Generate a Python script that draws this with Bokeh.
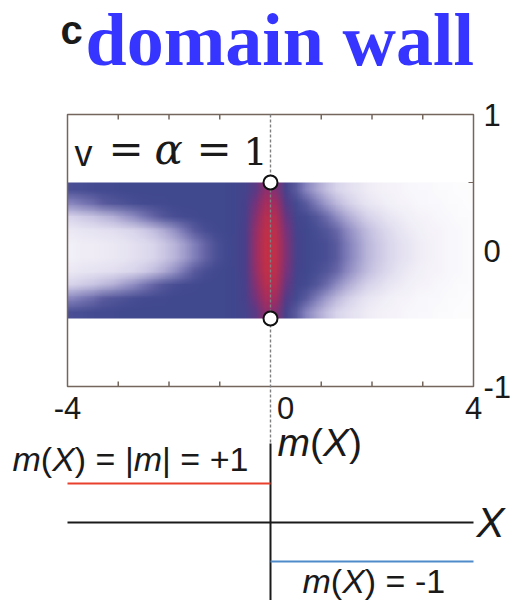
import base64
import struct
import zlib

import numpy as np
from bokeh.plotting import figure
from bokeh.models import Range1d
from bokeh.core.properties import value
from bokeh.embed import file_html
from bokeh.resources import INLINE

# ---------------- data ----------------
# density map: cell centres along X (cells 0.2 wide), band |y| <= 0.5
x_centers = [-3.9, -3.7, -3.5, -3.3, -3.1, -2.9, -2.7, -2.5, -2.3, -2.1,
             -1.9, -1.7, -1.5, -1.3, -1.1, -0.9, -0.7, -0.5, -0.3, -0.1,
             0.1, 0.3, 0.5, 0.7, 0.9, 1.1, 1.3, 1.5, 1.7, 1.9,
             2.1, 2.3, 2.5, 2.7, 2.9, 3.1, 3.3, 3.5, 3.7, 3.9]
row_y05 = [0.08, 0.09, 0.09, 0.10, 0.11, 0.12, 0.14, 0.16, 0.19, 0.23,
           0.28, 0.34, 0.41, 0.48, 0.55, 0.59, 0.61, 0.67, 0.87, 1.00,
           0.98, 0.82, 0.65, 0.60, 0.58, 0.56, 0.50, 0.42, 0.35, 0.28,
           0.23, 0.19, 0.15, 0.12, 0.09, 0.07, 0.05, 0.04, 0.03, 0.02]
row_y15 = [0.11, 0.12, 0.13, 0.14, 0.15, 0.17, 0.19, 0.22, 0.26, 0.31,
           0.37, 0.44, 0.51, 0.56, 0.59, 0.60, 0.61, 0.67, 0.86, 0.99,
           0.97, 0.80, 0.64, 0.60, 0.57, 0.53, 0.47, 0.39, 0.32, 0.26,
           0.21, 0.17, 0.13, 0.10, 0.08, 0.06, 0.05, 0.04, 0.03, 0.02]
row_y25 = [0.20, 0.22, 0.24, 0.27, 0.30, 0.34, 0.38, 0.43, 0.48, 0.53,
           0.56, 0.58, 0.59, 0.60, 0.60, 0.60, 0.61, 0.66, 0.83, 0.96,
           0.94, 0.76, 0.62, 0.58, 0.53, 0.46, 0.38, 0.31, 0.25, 0.20,
           0.16, 0.12, 0.10, 0.08, 0.06, 0.05, 0.04, 0.03, 0.02, 0.02]
row_y35 = [0.40, 0.43, 0.46, 0.50, 0.53, 0.55, 0.57, 0.58, 0.59, 0.59,
           0.60, 0.60, 0.60, 0.60, 0.60, 0.60, 0.61, 0.65, 0.79, 0.91,
           0.89, 0.71, 0.58, 0.50, 0.42, 0.34, 0.27, 0.21, 0.16, 0.12,
           0.10, 0.08, 0.06, 0.05, 0.04, 0.03, 0.03, 0.02, 0.02, 0.01]
row_y45 = [0.56, 0.57, 0.58, 0.59, 0.59, 0.60, 0.60, 0.60, 0.60, 0.60,
           0.60, 0.60, 0.60, 0.60, 0.60, 0.60, 0.61, 0.63, 0.73, 0.85,
           0.82, 0.64, 0.50, 0.40, 0.32, 0.25, 0.19, 0.15, 0.12, 0.09,
           0.07, 0.06, 0.05, 0.04, 0.03, 0.03, 0.02, 0.02, 0.01, 0.01]
band_half = 0.5

x_lim = [-4, 4]
y_lim = [-1, 1]
bottom_ticks = [-4, 0, 4]
bottom_tick_labels = ["-4", "0", "4"]
right_ticks = [1, 0, -1]
right_tick_labels = ["1", "0", "-1"]
minor_x_ticks = [-3, -2, -1, 1, 2, 3]
right_minor_ticks = [0.5]
wall_x = 0.0
wall_marker_y = [0.5, -0.5]

# mass profile m(X) across the wall
m_left = 1
m_right = -1

# ---------------- layout helpers ----------------
W, H = 512, 600
PX_X, X0 = 50.75, 270.0          # pixels per X unit, pixel of X = 0
PX_Y, Y0 = 136.0, 250.0          # density map: pixels per y unit, pixel of y = 0
PX_M, M0 = 39.0, 522.0           # mass profile: pixels per m unit, pixel of m = 0

def xd(px):
    return (px - X0) / PX_X

def ty(py):
    return (Y0 - py) / PX_Y

def my(py):
    return (M0 - py) / PX_M

INK = "#1a1a1a"
FRAME = "#74665d"
SANS = "Liberation Sans"
SERIF = "Liberation Serif"
MATH = "DejaVu Serif"
# drop of the drawn baseline below the anchor for "alphabetic" text, in em
BASE_DROP = {SANS: 0.33, SERIF: 0.34, MATH: 0.38}

def base_px(py, font, size):
    return py - BASE_DROP[font] * size

# colour scale: white -> lavender -> dark blue -> purple -> red
anchor_v = [0.0, 0.1, 0.2, 0.3, 0.4, 0.5, 0.6, 0.7, 0.8, 0.9, 1.0]
anchor_rgb = [(255, 255, 255), (238, 235, 246), (214, 210, 234), (178, 174, 214),
              (135, 132, 190), (92, 92, 160), (64, 72, 142), (80, 60, 138),
              (122, 50, 122), (165, 45, 96), (195, 48, 70)]
t = np.linspace(0, 1, 256)
lut = np.stack([np.interp(t, anchor_v, [c[k] for c in anchor_rgb]) for k in range(3)],
               axis=1).astype(np.uint8)

def png_uri(rgb):
    """Encode an (rows, cols, 3) uint8 array (first row on top) as a PNG data URI."""
    h, w, _ = rgb.shape
    raw = b"".join(b"\x00" + rgb[r].tobytes() for r in range(h))

    def chunk(tag, data):
        body = tag + data
        return struct.pack(">I", len(data)) + body + struct.pack(">I", zlib.crc32(body) & 0xFFFFFFFF)

    png = (b"\x89PNG\r\n\x1a\n"
           + chunk(b"IHDR", struct.pack(">IIBBBBB", w, h, 8, 2, 0, 0, 0))
           + chunk(b"IDAT", zlib.compress(raw, 9))
           + chunk(b"IEND", b""))
    return "data:image/png;base64," + base64.b64encode(png).decode()

# ---------------- canvas ----------------
p = figure(width=W, height=H,
           x_range=Range1d(xd(0), xd(W)), y_range=Range1d(ty(H), ty(0)),
           x_axis_location=None, y_axis_location=None, min_border=0,
           outline_line_color=None, output_backend="svg", toolbar_location=None,
           background_fill_color="white", border_fill_color="white")
p.extra_y_ranges = {"m": Range1d(my(H), my(0))}
p.xgrid.visible = False
p.ygrid.visible = False

# ---------------- density map ----------------
# rows listed from top (y = +0.45) to bottom (y = -0.45)
rows_top_down = [row_y45, row_y35, row_y25, row_y15, row_y05,
                 row_y05, row_y15, row_y25, row_y35, row_y45]
density = np.array(rows_top_down)
rgb = lut[np.clip(np.round(density * 255), 0, 255).astype(int)]
cell_w = x_centers[1] - x_centers[0]
p.image_url(url=[png_uri(rgb)], x=x_centers[0] - cell_w / 2, y=band_half,
            w=cell_w * len(x_centers), h=2 * band_half, anchor="top_left")

# plot box
p.quad(left=[x_lim[0]], right=[x_lim[1]], bottom=[y_lim[0]], top=[y_lim[1]],
       fill_color=None, line_color=FRAME, line_width=1.5)
tick_len_y = 5 / PX_Y
tick_len_x = 5 / PX_X
p.segment(x0=minor_x_ticks, y0=[y_lim[1]] * 6, x1=minor_x_ticks,
          y1=[y_lim[1] - tick_len_y] * 6, line_color=FRAME, line_width=1.5)
p.segment(x0=minor_x_ticks, y0=[y_lim[0]] * 6, x1=minor_x_ticks,
          y1=[y_lim[0] + tick_len_y] * 6, line_color=FRAME, line_width=1.5)
p.segment(x0=[x_lim[1]], y0=right_minor_ticks, x1=[x_lim[1] - tick_len_x],
          y1=right_minor_ticks, line_color=FRAME, line_width=1.2)

# wall position
p.segment(x0=[wall_x], y0=[y_lim[1]], x1=[wall_x], y1=[ty(443)],
          line_color="#808080", line_width=1.4, line_dash="3 2")
p.scatter(x=[wall_x] * 2, y=wall_marker_y, size=14, fill_color="white",
          line_color="#111111", line_width=2)

# tick labels
p.text(x=[bottom_ticks[0], bottom_ticks[1] + 15 / PX_X, bottom_ticks[2]],
       y=[y_lim[0] - 10 / PX_Y] * 3, text=bottom_tick_labels,
       text_align="center", text_baseline="top", text_font=value(SANS),
       text_font_size="31px", text_color=INK)
p.text(x=[x_lim[1] + 10 / PX_X] * 3, y=right_ticks, text=right_tick_labels,
       text_align="left", text_baseline="middle", text_font=value(SANS),
       text_font_size="31px", text_color=INK)

# panel letter and heading
p.text(x=[xd(60)], y=[ty(base_px(43, SANS, 40))], text=["c"], text_font=value(SANS),
       text_font_style="bold", text_font_size="40px", text_color=INK,
       text_baseline="alphabetic", text_align="left")
p.text(x=[xd(85)], y=[ty(base_px(65, SERIF, 74))], text=["domain wall"],
       text_font=value(SERIF), text_font_style="bold",
       text_font_size="74px", text_color="#3535ff",
       text_baseline="alphabetic", text_align="left")

# parameter annotation
param_pieces = [("v", SANS, "normal", 36, 74),
                ("=", MATH, "normal", 42, 108),
                ("\u03b1", MATH, "italic", 42, 154),
                ("=", MATH, "normal", 42, 196),
                ("1", MATH, "normal", 38, 243)]
for txt, font, style, size, px in param_pieces:
    p.text(x=[xd(px)], y=[ty(base_px(165, font, size))], text=[txt],
           text_font=value(font), text_font_style=style,
           text_font_size=f"{size}px", text_color=INK,
           text_baseline="alphabetic", text_align="left")

# ---------------- mass profile m(X) ----------------
p.segment(x0=[wall_x], y0=[my(443)], x1=[wall_x], y1=[my(H)],
          line_color=INK, line_width=2, y_range_name="m")
p.segment(x0=[x_lim[0]], y0=[0], x1=[x_lim[1]], y1=[0], line_color=INK,
          line_width=2, y_range_name="m")
p.segment(x0=[x_lim[0]], y0=[m_left], x1=[wall_x], y1=[m_left],
          line_color="#e8402c", line_width=1.8, y_range_name="m")
p.segment(x0=[wall_x], y0=[m_right], x1=[x_lim[1]], y1=[m_right],
          line_color="#4f8bcb", line_width=1.8, y_range_name="m")

ARIAL_EM = {"m": 0.833, "(": 0.333, ")": 0.333, "X": 0.667, " ": 0.278,
            "=": 0.584, "|": 0.26, "+": 0.584, "1": 0.556, "-": 0.333}

def text_run(pieces, left_px, base_py, size):
    px = left_px
    for txt, style in pieces:
        p.text(x=[xd(px)], y=[my(base_px(base_py, SANS, size))], text=[txt],
               text_font=value(SANS), text_font_style=style,
               text_font_size=f"{size}px", text_color=INK,
               text_baseline="alphabetic", text_align="left", y_range_name="m")
        px += sum(ARIAL_EM[c] for c in txt) * size

text_run([("m", "italic"), ("(", "normal"), ("X", "italic"), (") = |", "normal"),
          ("m", "italic"), ("| = +1", "normal")], 12, 470, 34)
text_run([("m", "italic"), ("(", "normal"), ("X", "italic"), (")", "normal")],
         277, 455, 39)
text_run([("m", "italic"), ("(", "normal"), ("X", "italic"), (") = -1", "normal")],
         302, 592, 34)
p.text(x=[xd(476)], y=[0], text=["X"], text_font=value(SANS), text_font_style="italic",
       text_font_size="42px", text_color=INK, text_baseline="middle", text_align="left",
       y_range_name="m")

open("out.html", "w").write(file_html(p, INLINE))
